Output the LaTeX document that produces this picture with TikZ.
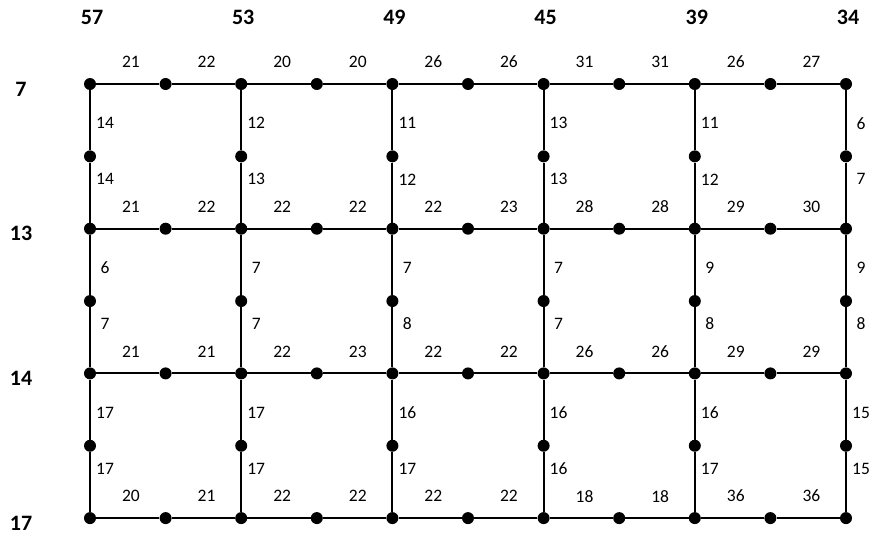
\documentclass[tikz,border=0pt]{standalone}
\usepackage{fontspec}
\setmainfont{Carlito}
\begin{document}
\begin{tikzpicture}[x=1pt, y=-1pt,
    dot/.style={circle, fill=black, inner sep=0pt, minimum size=12pt},
    edge/.style={line width=2pt},
    hlab/.style={font=\fontsize{17.5}{19}\selectfont, yshift=22pt, pos=0.55},
    vlab/.style={font=\fontsize{17.5}{19}\selectfont, xshift=15pt},
    head/.style={font=\fontsize{22}{24}\selectfont\bfseries, inner sep=0pt}]
    \useasboundingbox (0,0) rectangle (877,533);

    % Grid corners and midpoints
    \foreach \i in {0,...,5} {
      \foreach \j in {0,...,3} {
        \node[dot] (c\i\j) at ({90+151.2*\i},{84+144.7*\j}) {};
      }
    }
    \foreach \i in {0,...,4} {
      \foreach \j in {0,...,3} {
        \node[dot] (h\i\j) at ({165.6+151.2*\i},{84+144.7*\j}) {};
      }
    }
    \foreach \i in {0,...,5} {
      \foreach \j in {0,...,2} {
        \node[dot] (v\i\j) at ({90+151.2*\i},{156.35+144.7*\j}) {};
      }
    }

    % Horizontal edges
    \foreach \i/\j/\a/\b [evaluate=\i as \k using int(\i+1)] in {
        0/0/21/22, 1/0/20/20, 2/0/26/26, 3/0/31/31, 4/0/26/27,
        0/1/21/22, 1/1/22/22, 2/1/22/23, 3/1/28/28, 4/1/29/30,
        0/2/21/21, 1/2/22/23, 2/2/22/22, 3/2/26/26, 4/2/29/29,
        0/3/20/21, 1/3/22/22, 2/3/22/22, 3/3/18/18, 4/3/36/36} {
      \draw[edge] (c\i\j) -- node[hlab] {\a} (h\i\j);
      \draw[edge] (h\i\j) -- node[hlab] {\b} (c\k\j);
    }

    % Vertical edges
    \foreach \i/\j/\a/\b [evaluate=\j as \k using int(\j+1)] in {
        0/0/14/14, 0/1/6/7, 0/2/17/17,
        1/0/12/13, 1/1/7/7, 1/2/17/17,
        2/0/11/12, 2/1/7/8, 2/2/16/17,
        3/0/13/13, 3/1/7/7, 3/2/16/16,
        4/0/11/12, 4/1/9/8, 4/2/16/17,
        5/0/6/7, 5/1/9/8, 5/2/15/15} {
      \draw[edge] (c\i\j) -- node[vlab, pos=0.55] {\a} (v\i\j);
      \draw[edge] (v\i\j) -- node[vlab, pos=0.28] {\b} (c\i\k);
    }

    % Column and row headings
    \foreach \i/\t in {0/57, 1/53, 2/49, 3/45, 4/39, 5/34}
      \node[head] (top\i) at ({92+151.2*\i},17) {\t};
    \foreach \j/\t in {0/7, 1/13, 2/14, 3/17}
      \node[head] (left\j) at (21,{89+144.7*\j}) {\t};
\end{tikzpicture}
\end{document}
